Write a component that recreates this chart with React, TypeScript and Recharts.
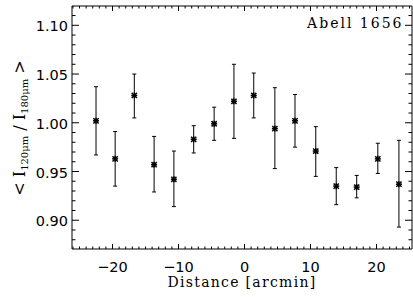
import React from 'react';
import { ComposedChart, Scatter, XAxis, YAxis, ErrorBar } from 'recharts';

// Data
const distances = [-22.5, -19.6, -16.7, -13.7, -10.7, -7.7, -4.6, -1.6, 1.4, 4.6, 7.65, 10.8, 13.9, 17.0, 20.2, 23.4];
const ratios = [1.002, 0.963, 1.028, 0.957, 0.942, 0.983, 0.999, 1.022, 1.028, 0.994, 1.002, 0.971, 0.935, 0.934, 0.963, 0.937];
const upperBounds = [1.037, 0.991, 1.050, 0.986, 0.971, 0.997, 1.016, 1.060, 1.051, 1.036, 1.029, 0.996, 0.954, 0.946, 0.979, 0.982];
const lowerBounds = [0.967, 0.935, 1.005, 0.929, 0.914, 0.969, 0.982, 0.984, 1.005, 0.953, 0.975, 0.945, 0.916, 0.923, 0.948, 0.893];

// Ticks
const xMajorTicks = [-20, -10, 0, 10, 20];
const xAllTicks = [-26, -25, -24, -23, -22, -21, -20, -19, -18, -17, -16, -15, -14, -13, -12, -11, -10, -9, -8, -7, -6, -5, -4, -3, -2, -1, 0, 1, 2, 3, 4, 5, 6, 7, 8, 9, 10, 11, 12, 13, 14, 15, 16, 17, 18, 19, 20, 21, 22, 23, 24, 25];
const yMajorTicks = [0.9, 0.95, 1.0, 1.05, 1.1];
const yAllTicks = [0.88, 0.89, 0.9, 0.91, 0.92, 0.93, 0.94, 0.95, 0.96, 0.97, 0.98, 0.99, 1.0, 1.01, 1.02, 1.03, 1.04, 1.05, 1.06, 1.07, 1.08, 1.09, 1.1, 1.11];

const xDomain = [-26.14, 25.38];
const yDomain = [0.8705, 1.1198];

const titleText = 'Abell 1656';
const xLabelText = 'Distance [arcmin]';

const data = distances.map((d, i) => ({
  x: d,
  y: ratios[i],
  err: [ratios[i] - lowerBounds[i], upperBounds[i] - ratios[i]],
}));

const TICK_FONT = '"DejaVu Sans", sans-serif';
const SERIF = '"DejaVu Serif", serif';

const isXMajor = (v: number) => xMajorTicks.some((m) => Math.abs(m - v) < 1e-6);
const isYMajor = (v: number) => yMajorTicks.some((m) => Math.abs(m - v) < 1e-6);
const fmtX = (v: number) => (v < 0 ? '\u2212' + Math.abs(v) : String(v));

const BottomTick = (props: any) => {
  const { x, y, payload } = props;
  const major = isXMajor(payload.value);
  return (
    <g>
      <line x1={x} x2={x} y1={y} y2={y - (major ? 5 : 2.5)} stroke="#000" strokeWidth={1} />
      {major && (
        <text x={x} y={y + 23} textAnchor="middle" fontSize={14.5} fontFamily={TICK_FONT} fill="#000">
          {fmtX(payload.value)}
        </text>
      )}
    </g>
  );
};

const TopTick = (props: any) => {
  const { x, y, payload } = props;
  const major = isXMajor(payload.value);
  return <line x1={x} x2={x} y1={y} y2={y + (major ? 5 : 2.5)} stroke="#000" strokeWidth={1} />;
};

const LeftTick = (props: any) => {
  const { x, y, payload } = props;
  const major = isYMajor(payload.value);
  return (
    <g>
      <line x1={x} x2={x + (major ? 7 : 3.5)} y1={y} y2={y} stroke="#000" strokeWidth={1} />
      {major && (
        <text x={x - 4} y={y + 6} textAnchor="end" fontSize={14.5} fontFamily={TICK_FONT} fill="#000">
          {Number(payload.value).toFixed(2)}
        </text>
      )}
    </g>
  );
};

const RightTick = (props: any) => {
  const { x, y, payload } = props;
  const major = isYMajor(payload.value);
  return <line x1={x} x2={x - (major ? 7 : 3.5)} y1={y} y2={y} stroke="#000" strokeWidth={1} />;
};

const Star = (props: any) => {
  const { cx, cy } = props;
  const r = 3;
  const d = 2.6;
  return (
    <g stroke="#000" strokeWidth={1.5}>
      <line x1={cx - r} x2={cx + r} y1={cy} y2={cy} />
      <line x1={cx} x2={cx} y1={cy - r} y2={cy + r} />
      <line x1={cx - d} x2={cx + d} y1={cy - d} y2={cy + d} />
      <line x1={cx - d} x2={cx + d} y1={cy + d} y2={cy - d} />
    </g>
  );
};

const XLabel = (props: any) => {
  const vb = props.viewBox || {};
  const cx = vb.x + vb.width / 2;
  return (
    <text x={cx} y={vb.y + 37.7} textAnchor="middle" fontSize={14} fontFamily={SERIF} letterSpacing={1.3} fill="#000">
      {xLabelText}
    </text>
  );
};

const YLabel = (props: any) => {
  const vb = props.viewBox || {};
  const cx = 25;
  const cy = vb.y + vb.height / 2 + 0.5;
  return (
    <text
      x={cx}
      y={cy}
      transform={`rotate(-90, ${cx}, ${cy})`}
      textAnchor="middle"
      fontSize={16}
      fontFamily={SERIF}
      fill="#000"
    >
      <tspan>{'< I'}</tspan>
      <tspan fontSize={10} dy={3}>{'120\u03bcm'}</tspan>
      <tspan dy={-3}>{' / I'}</tspan>
      <tspan fontSize={10} dy={3}>{'180\u03bcm'}</tspan>
      <tspan dy={-3}>{' >'}</tspan>
    </text>
  );
};

export default function App() {
  const W = 413;
  const H = 297;
  return (
    <div style={{ position: 'absolute', left: 0, top: 0, width: W, height: H, background: '#fff' }}>
      <ComposedChart width={W} height={H} data={data} margin={{ top: 6, right: 1, bottom: 0, left: 0 }}>
        <XAxis
          xAxisId="b"
          dataKey="x"
          type="number"
          orientation="bottom"
          domain={xDomain}
          allowDataOverflow
          ticks={xAllTicks}
          interval={0}
          tickSize={0}
          tickMargin={0}
          tick={<BottomTick />}
          tickLine={false}
          axisLine={{ stroke: '#000', strokeWidth: 1 }}
          height={48}
          label={<XLabel />}
        />
        <XAxis
          xAxisId="t"
          dataKey="x"
          type="number"
          orientation="top"
          mirror
          domain={xDomain}
          allowDataOverflow
          ticks={xAllTicks}
          interval={0}
          tickSize={0}
          tickMargin={0}
          tick={<TopTick />}
          tickLine={false}
          axisLine={{ stroke: '#000', strokeWidth: 1 }}
          height={10}
        />
        <YAxis
          yAxisId="l"
          type="number"
          orientation="left"
          domain={yDomain}
          allowDataOverflow
          ticks={yAllTicks}
          interval={0}
          tickSize={0}
          tickMargin={0}
          tick={<LeftTick />}
          tickLine={false}
          axisLine={{ stroke: '#000', strokeWidth: 1 }}
          width={72}
          label={<YLabel />}
        />
        <YAxis
          yAxisId="r"
          type="number"
          orientation="right"
          mirror
          domain={yDomain}
          allowDataOverflow
          ticks={yAllTicks}
          interval={0}
          tickSize={0}
          tickMargin={0}
          tick={<RightTick />}
          tickLine={false}
          axisLine={{ stroke: '#000', strokeWidth: 1 }}
          width={10}
        />
        <Scatter
          xAxisId="b"
          yAxisId="l"
          dataKey="y"
          fill="#000"
          shape={<Star />}
          isAnimationActive={false}
        >
          <ErrorBar dataKey="err" direction="y" width={2} stroke="#000" strokeWidth={1} isAnimationActive={false} />
        </Scatter>
      </ComposedChart>
      <svg width={W} height={H} style={{ position: 'absolute', left: 0, top: 0, pointerEvents: 'none' }}>
        <text x={403.5} y={28.3} textAnchor="end" fontSize={14} fontFamily={SERIF} letterSpacing={2} fill="#000">
          {titleText}
        </text>
      </svg>
    </div>
  );
}
